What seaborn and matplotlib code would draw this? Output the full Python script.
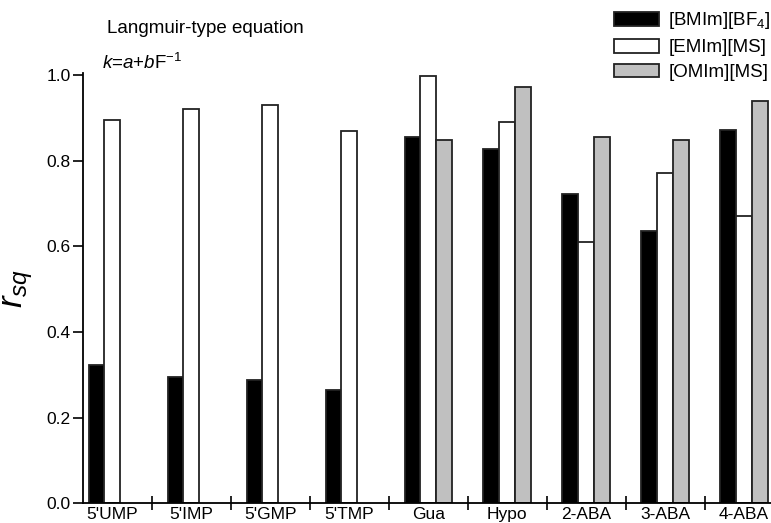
import matplotlib
matplotlib.use("Agg")
import matplotlib.pyplot as plt
import seaborn as sns
import numpy as np
import pandas as pd

# data
compounds = ["5'UMP", "5'IMP", "5'GMP", "5'TMP", "Gua", "Hypo", "2-ABA", "3-ABA", "4-ABA"]
bmim_bf4 = [0.323, 0.294, 0.287, 0.265, 0.856, 0.827, 0.722, 0.637, 0.872]
emim_ms = [0.895, 0.922, 0.930, 0.871, 0.999, 0.890, 0.611, 0.771, 0.671]
omim_ms = [np.nan, np.nan, np.nan, np.nan, 0.849, 0.973, 0.856, 0.850, 0.939]
series = ["[BMIm][BF$_4$]", "[EMIm][MS]", "[OMIm][MS]"]

rows = []
for name, vals in zip(series, [bmim_bf4, emim_ms, omim_ms]):
    for c, v in zip(compounds, vals):
        rows.append({"compound": c, "ionic liquid": name, "rsq": v})
df = pd.DataFrame(rows)

sns.set_style("ticks")
plt.rcParams["font.family"] = ["Liberation Sans", "DejaVu Sans"]
plt.rcParams["mathtext.fontset"] = "custom"
plt.rcParams["mathtext.rm"] = "Liberation Sans"
plt.rcParams["mathtext.it"] = "Liberation Sans:italic"
for key in ["text.color", "axes.labelcolor", "axes.edgecolor", "xtick.color", "ytick.color"]:
    plt.rcParams[key] = "black"

fig = plt.figure(figsize=(7.71, 5.23), dpi=100)
ax = fig.add_axes([0.1077, 0.038, 0.8923, 0.822])

sns.barplot(data=df, x="compound", y="rsq", hue="ionic liquid", order=compounds,
            hue_order=series, palette=["black", "white", "#c0c0c0"], width=0.6,
            edgecolor="#222222", linewidth=1.3, ax=ax)

ax.set_xlim(-0.37, 8.34)
ax.set_ylim(0, 1.005)
ax.set_yticks([0.0, 0.2, 0.4, 0.6, 0.8, 1.0])
ax.set_yticklabels(["0.0", "0.2", "0.4", "0.6", "0.8", "1.0"], fontsize=12.5)
ax.tick_params(axis="y", direction="out", length=7, width=1.2, pad=2)

# category labels at centres, ticks at boundaries
ax.set_xticks(range(len(compounds)))
ax.set_xticklabels(compounds, fontsize=12.5)
ax.tick_params(axis="x", which="major", length=0, pad=3)
ax.set_xticks(np.arange(0.5, len(compounds) - 1, 1.0), minor=True)
ax.tick_params(axis="x", which="minor", direction="inout", length=10, width=1.2)

ax.set_xlabel("")
ax.set_ylabel("$r_{sq}$", fontsize=25, labelpad=8)
sns.despine(ax=ax, top=True, right=True)
for s in ["left", "bottom"]:
    ax.spines[s].set_linewidth(1.3)

fig.text(0.139, 0.945, "Langmuir-type equation", fontsize=13.5, va="center")
fig.text(0.132, 0.88, "$k$=$a$+$b$F$^{-1}$", fontsize=13.5, va="center")

handles, labels = ax.get_legend_handles_labels()
ax.legend(handles, labels, loc="upper right", bbox_to_anchor=(1.013, 1.0),
          bbox_transform=fig.transFigure, frameon=False, fontsize=13.5,
          handlelength=2.4, handleheight=0.75, labelspacing=0.4,
          handletextpad=0.5, borderaxespad=0.15)

fig.savefig("out.png", dpi=100)
